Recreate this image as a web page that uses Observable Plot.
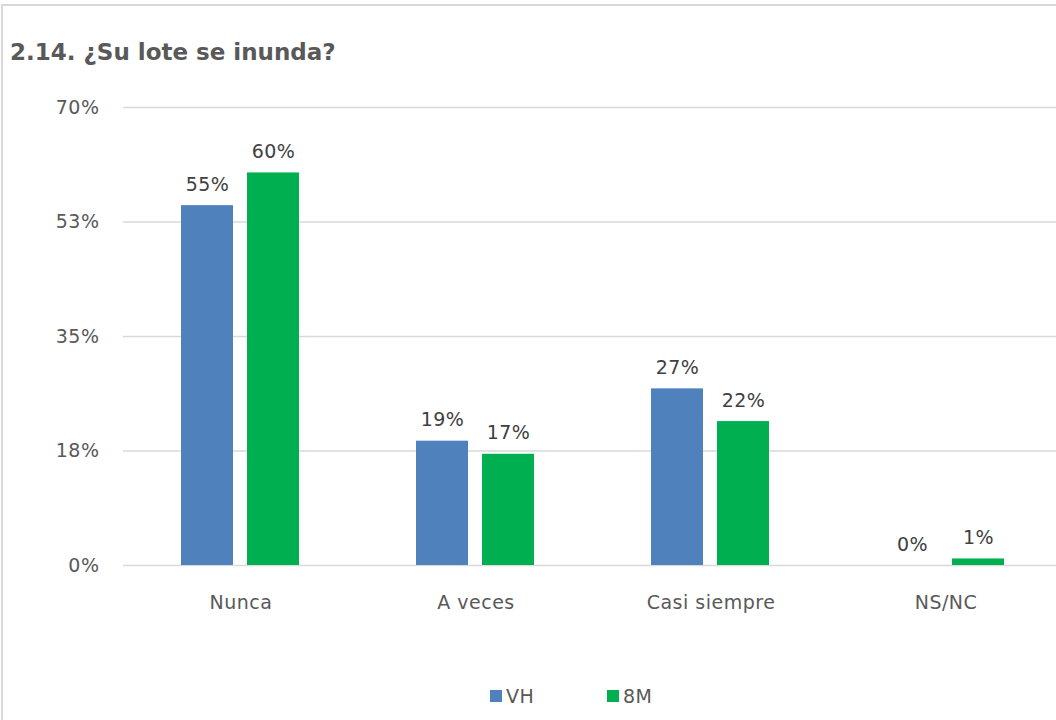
<!DOCTYPE html>
<html>
<head>
<meta charset="utf-8">
<script src="https://cdn.jsdelivr.net/npm/d3@7"></script>
<script src="https://cdn.jsdelivr.net/npm/@observablehq/plot@0.6"></script>
<style>
  html, body { margin: 0; padding: 0; overflow: hidden; background: #fff; }
  body { width: 1056px; height: 720px; position: relative; font-family: "DejaVu Sans", sans-serif; }
  #frame { position: absolute; left: 1px; top: 4px; width: 1100px; height: 760px; border: 2px solid #d9d9d9; box-sizing: border-box; }
  #title { position: absolute; left: 10px; top: 39px; font-size: 23px; font-weight: bold; color: #595959; white-space: nowrap; }
  #chart { position: absolute; left: 0; top: 0; width: 1070px; }
  #chart svg { max-width: none !important; }
  #legend { position: absolute; top: 685px; left: 0; width: 1056px; font-size: 19px; color: #595959; letter-spacing: 0.5px; }
  .li { position: absolute; display: flex; align-items: center; }
  .sw { width: 12px; height: 12px; margin-right: 4px; }
</style>
</head>
<body>
<div id="frame"></div>
<div id="title">2.14. ¿Su lote se inunda?</div>
<div id="chart"></div>
<div id="legend"></div>
<script>
const categories = ["Nunca", "A veces", "Casi siempre", "NS/NC"];
const series = ["VH", "8M"];
const valuesVH = [0.55, 0.19, 0.27, 0.00];
const values8M = [0.60, 0.17, 0.22, 0.01];
const colors = ["#4F81BD", "#00B050"];
const yTicks = [0, 0.175, 0.35, 0.525, 0.7];
const yTickLabels = ["0%", "18%", "35%", "53%", "70%"];

const data = [];
categories.forEach((c, i) => {
  data.push({cat: c, ser: "VH", v: valuesVH[i]});
  data.push({cat: c, ser: "8M", v: values8M[i]});
});

const chart = Plot.plot({
  width: 1070,
  height: 620,
  marginTop: 107,
  marginBottom: 55,
  marginLeft: 122,
  marginRight: 6,
  style: {fontFamily: "DejaVu Sans, sans-serif", fontSize: "19px", color: "#595959", background: "transparent", overflow: "visible", maxWidth: "none", letterSpacing: "0.5px"},
  fx: {domain: categories, padding: 0, label: null},
  x: {domain: series, paddingInner: 0.209, paddingOuter: 0.862, axis: null},
  y: {domain: [0, 0.7], label: null},
  color: {domain: series, range: colors},
  marks: [
    Plot.ruleY(yTicks, {stroke: "#d9d9d9", strokeWidth: 1.5, facet: "exclude"}),
    Plot.barY(data, {fx: "cat", x: "ser", y: "v", fill: "ser"}),
    Plot.text(data, {fx: "cat", x: "ser", y: "v", text: d => Math.round(d.v * 100) + "%", lineAnchor: "bottom", dy: -15, fill: "#404040", fontSize: 19}),
    Plot.axisY({ticks: yTicks, tickFormat: (d, i) => yTickLabels[i], tickSize: 0, tickPadding: 24, label: null, fill: "#595959", fontSize: 19}),
    Plot.axisFx({anchor: "bottom", tickSize: 0, tickPadding: 30, label: null, fill: "#595959", fontSize: 19})
  ]
});
document.getElementById("chart").appendChild(chart);

const legendPos = [490, 607];
const lg = document.getElementById("legend");
series.forEach((s, i) => {
  const el = document.createElement("div");
  el.className = "li";
  el.style.left = legendPos[i] + "px";
  el.innerHTML = `<span class="sw" style="background:${colors[i]}"></span><span>${s}</span>`;
  lg.appendChild(el);
});
</script>
</body>
</html>
